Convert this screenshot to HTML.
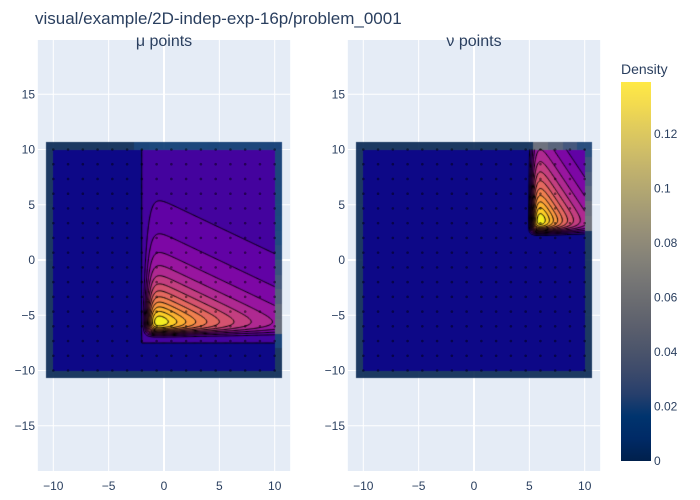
<!DOCTYPE html>
<html><head><meta charset="utf-8"><style>
body{margin:0;background:#fff;}
#wrap{position:relative;width:700px;height:500px;overflow:hidden;font-family:"Liberation Sans",sans-serif;}
svg,canvas{position:absolute;left:0;top:0;}
</style></head><body>
<div id="wrap">
<svg id="bg" width="700" height="500"></svg>
<canvas id="cv" width="700" height="500"></canvas>
<svg id="fg" width="700" height="500"></svg>
</div>
<script>
// ---- data ----
const xTicks = [-10, -5, 0, 5, 10];
const yTicks = [-15, -10, -5, 0, 5, 10, 15];
const cbTicks = [0, 0.02, 0.04, 0.06, 0.08, 0.1, 0.12];
const gridPts = [-10, -8.667, -7.333, -6, -4.667, -3.333, -2, -0.667, 0.667, 2, 3.333, 4.667, 6, 7.333, 8.667, 10];
// density model parameters: [cutX, cutY, scaleX, scaleY, edgeWidthX, edgeWidthY, edgeStrX, edgeStrY, peakValue, base]
const muParams = [-2, -7.5, 8.4, 4, 0.35, 0.4, 4, 11.6, 0.126, 0.011];
const nuParams = [5, 2, 4, 6, 0.3, 0.35, 2.1, 5.6, 0.137, 0.0];
const zMax = 0.139;
const levelStep = 0.01;
const panels = [
  {name:'mu', title:'μ points', cx:164, params:muParams, ylx:35},
  {name:'nu', title:'ν points', cx:474, params:nuParams, ylx:345}
];
const plasma = ['#0d0887','#46039f','#7201a8','#9c179e','#bd3786','#d8576b','#ed7953','#fb9f3a','#fdca26','#f0f921'];
const cividis = ['#00204c','#002a66','#00346e','#273f6c','#3c4a6b','#4c556b','#5b5f6d','#686a70','#757575','#838178','#928c78','#a19876','#b0a572','#c0b16d','#d1bf66','#e1cc5c','#f3db4f','#ffe945'];
// ---- helpers ----
const PX = 11.07, PY = 11.05, CY = 260;
const NS = 'http://www.w3.org/2000/svg';
function hex(h){return [parseInt(h.slice(1,3),16),parseInt(h.slice(3,5),16),parseInt(h.slice(5,7),16)];}
function scale(arr,t){t=Math.max(0,Math.min(1,t));const p=t*(arr.length-1);const i=Math.min(Math.floor(p),arr.length-2);const f=p-i;const a=hex(arr[i]),b=hex(arr[i+1]);return [0,1,2].map(k=>Math.round(a[k]+(b[k]-a[k])*f));}
function rawU(p,x,y){
  const dx=x-p[0],dy=y-p[1];
  return dx/p[2]+p[6]*Math.exp(-dx/p[4]) + dy/p[3]+p[7]*Math.exp(-dy/p[5]);
}
function minU(p){
  const ux=p[4]*Math.log(p[6]*p[2]/p[4]), uy=p[5]*Math.log(p[7]*p[3]/p[5]);
  return rawU(p,p[0]+ux,p[1]+uy);
}
panels.forEach(pn=>{pn.u0=minU(pn.params);});
function dens(pn,x,y){
  const p=pn.params;
  if(x<p[0]||y<p[1])return 0;
  return p[9]+p[8]*Math.exp(-(rawU(p,x,y)-pn.u0));
}
function el(svg,tag,attrs,txt){const e=document.createElementNS(NS,tag);for(const k in attrs)e.setAttribute(k,attrs[k]);if(txt!==undefined)e.textContent=txt;svg.appendChild(e);return e;}
const bg=document.getElementById('bg'), fg=document.getElementById('fg');
const ctx=document.getElementById('cv').getContext('2d');

panels.forEach(pn=>{
  const X=x=>pn.cx+PX*x, Y=y=>CY-PY*y;
  const x0=X(-11.4), x1=X(11.4), y0=40, y1=471;
  const r=el(bg,'rect',{x:x0,y:y0,width:x1-x0,height:y1-y0,fill:'#e5ecf6'});
  
  
  xTicks.forEach(t=>{const l=el(bg,'line',{x1:X(t),x2:X(t),y1:y0,y2:y1,stroke:'#fff','stroke-width':t===0?2:1});
    
    
    const tx=el(fg,'text',{x:X(t),y:490,'text-anchor':'middle','font-size':12,fill:'#2a3f5f'},String(t).replace('-','−'));
    
    });
  yTicks.forEach(t=>{const l=el(bg,'line',{x1:x0,x2:x1,y1:Y(t),y2:Y(t),stroke:'#fff','stroke-width':t===0?2:1});
    
    
    const tx=el(fg,'text',{x:pn.ylx,y:Y(t)+4,'text-anchor':'end','font-size':12,fill:'#2a3f5f'},String(t).replace('-','−'));
    
    });
  const tt=el(fg,'text',{x:pn.cx,y:46,'text-anchor':'middle','font-size':16,fill:'#2a3f5f'},pn.title);
  
  
  // heatmap cells
  const half=(gridPts[1]-gridPts[0])/2;
  gridPts.forEach(gx=>gridPts.forEach(gy=>{
    const c=scale(cividis,dens(pn,gx,gy)/zMax);
    ctx.fillStyle='rgba('+c[0]+','+c[1]+','+c[2]+',0.88)';
    const a=X(gx-half),b=Y(gy+half);
    ctx.fillRect(Math.round(a),Math.round(b),Math.round(X(gx+half))-Math.round(a),Math.round(Y(gy-half))-Math.round(b));
  }));
  // filled contours
  const px0=Math.round(X(-10)),px1=Math.round(X(10)),py0=Math.round(Y(10)),py1=Math.round(Y(-10));
  const img=ctx.createImageData(px1-px0,py1-py0);
  for(let j=0;j<py1-py0;j++)for(let i=0;i<px1-px0;i++){
    const x=(px0+i+0.5-pn.cx)/PX,y=(CY-(py0+j+0.5))/PY;
    const v=dens(pn,x,y);
    const lv=(Math.floor(v/levelStep)+0.5)*levelStep;
    const c=v<levelStep?hex(plasma[0]):scale(plasma,lv/zMax);
    const k=(j*(px1-px0)+i)*4;img.data[k]=c[0];img.data[k+1]=c[1];img.data[k+2]=c[2];img.data[k+3]=255;
  }
  ctx.putImageData(img,px0,py0);
  // contour lines (marching squares)
  ctx.strokeStyle='#000';ctx.lineWidth=1;ctx.beginPath();
  const h=0.1,N=200;
  for(let L=levelStep;L<zMax;L+=levelStep){
    for(let i=0;i<N;i++)for(let j=0;j<N;j++){
      const xa=-10+i*h,ya=-10+j*h,xb=xa+h,yb=ya+h;
      const v=[dens(pn,xa,ya),dens(pn,xb,ya),dens(pn,xb,yb),dens(pn,xa,yb)];
      const P=[[xa,ya],[xb,ya],[xb,yb],[xa,yb]];
      const pts=[];
      for(let e=0;e<4;e++){const a=v[e],b=v[(e+1)%4];if((a<L)!==(b<L)){const t=(L-a)/(b-a);const p=P[e],q=P[(e+1)%4];pts.push([p[0]+(q[0]-p[0])*t,p[1]+(q[1]-p[1])*t]);}}
      for(let k=0;k+1<pts.length;k+=2){ctx.moveTo(X(pts[k][0]),Y(pts[k][1]));ctx.lineTo(X(pts[k+1][0]),Y(pts[k+1][1]));}
    }
  }
  ctx.stroke();
  // sample points
  gridPts.forEach(gx=>gridPts.forEach(gy=>{
    const d=el(fg,'circle',{cx:X(gx),cy:Y(gy),r:1.3,fill:'rgba(0,0,0,0.45)'});
    
    
  }));
});
// title
const t=el(fg,'text',{x:35,y:24,'font-size':17,fill:'#2a3f5f'},'visual/example/2D-indep-exp-16p/problem_0001');


// colorbar
const defs=el(fg,'defs',{});const g=el(defs,'linearGradient',{id:'cb',x1:0,y1:1,x2:0,y2:0});
cividis.forEach((c,i)=>el(g,'stop',{offset:i/(cividis.length-1),'stop-color':c}));
const cb=el(fg,'rect',{x:621,y:82,width:30,height:379,fill:'url(#cb)'});


const ct=el(fg,'text',{x:621,y:74,'font-size':14,fill:'#2a3f5f'},'Density');


cbTicks.forEach(v=>{const y=461-379*v/zMax;
  const l=el(fg,'text',{x:654,y:y+4,'font-size':12,fill:'#2a3f5f'},String(v));
  
  });
</script>
</body></html>
